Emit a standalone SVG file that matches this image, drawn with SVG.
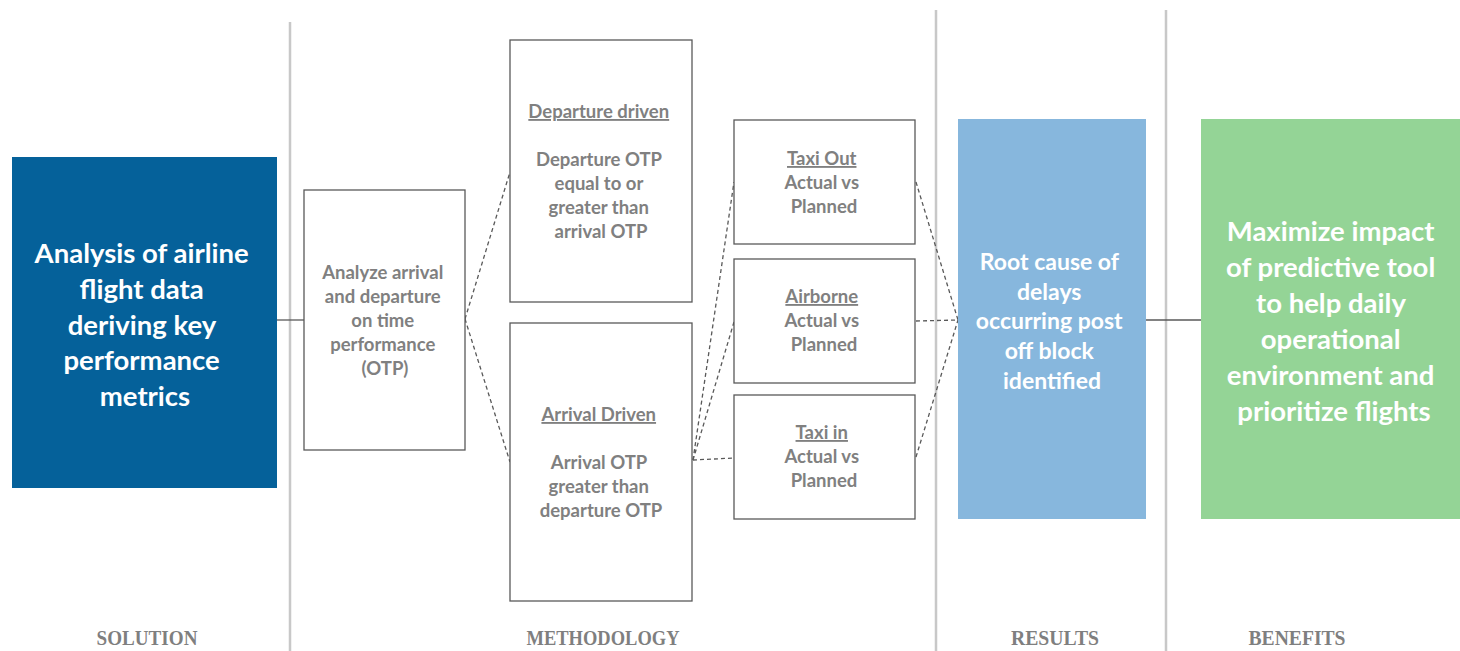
<svg xmlns="http://www.w3.org/2000/svg" width="1460" height="651" viewBox="0 0 1460 651">
  <style>
    .sep { stroke: #c8c8c8; stroke-width: 2.5; }
    .box { fill: #ffffff; stroke: #595959; stroke-width: 1.3; }
    .solid { stroke: #595959; stroke-width: 1.3; fill: none; }
    .dash { stroke: #595959; stroke-width: 1.3; stroke-dasharray: 4 3; fill: none; }
    .gt { font-family: Lato, "Liberation Sans", sans-serif; font-weight: bold; fill: #808080; font-size: 18.5px; text-anchor: middle; }
    .ul { text-decoration: underline; }
    .wt { font-family: Lato, "Liberation Sans", sans-serif; font-weight: bold; fill: #ffffff; text-anchor: middle; }
    .cap { font-family: "Liberation Serif", serif; font-weight: bold; fill: #7f7f7f; font-size: 22px; text-anchor: middle; }
  </style>
  <rect width="1460" height="651" fill="#ffffff"/>

  <!-- column separators -->
  <g id="separators">
    <line class="sep" x1="290" y1="22" x2="290" y2="651"/>
    <line class="sep" x1="936" y1="10" x2="936" y2="651"/>
    <line class="sep" x1="1166" y1="10" x2="1166" y2="651"/>
  </g>

  <!-- connectors -->
  <g id="connectors">
    <line class="solid" x1="277" y1="320" x2="304" y2="320"/>
    <line class="dash" x1="465" y1="319" x2="510" y2="172"/>
    <line class="dash" x1="465" y1="319" x2="510" y2="462"/>
    <line class="dash" x1="693" y1="460" x2="734" y2="182"/>
    <line class="dash" x1="693" y1="460" x2="734" y2="322"/>
    <line class="dash" x1="693" y1="460" x2="734" y2="458"/>
    <line class="dash" x1="916" y1="182" x2="958" y2="320"/>
    <line class="dash" x1="916" y1="321" x2="958" y2="320"/>
    <line class="dash" x1="916" y1="457" x2="958" y2="320"/>
    <line class="solid" x1="1146" y1="320" x2="1201" y2="320"/>
  </g>

  <g id="solution">
    <rect x="12" y="157" width="265" height="331" fill="#05619a"/>
    <text class="wt" font-size="27.5">
      <tspan x="145" y="263">Analysis of airline</tspan>
      <tspan x="145" y="299">flight data</tspan>
      <tspan x="145" y="335">deriving key</tspan>
      <tspan x="145" y="370">performance</tspan>
      <tspan x="145" y="406">metrics</tspan>
    </text>
  </g>

  <g id="analyze">
    <rect class="box" x="304" y="190" width="161" height="260"/>
    <text class="gt">
      <tspan x="385" y="279">Analyze arrival</tspan>
      <tspan x="385" y="303">and departure</tspan>
      <tspan x="385" y="327">on time</tspan>
      <tspan x="385" y="351">performance</tspan>
      <tspan x="385" y="375">(OTP)</tspan>
    </text>
  </g>

  <g id="departure-driven">
    <rect class="box" x="510" y="40" width="182" height="262"/>
    <text class="gt">
      <tspan class="ul" x="601" y="118">Departure driven</tspan>
      <tspan x="601" y="166">Departure OTP</tspan>
      <tspan x="601" y="190">equal to or</tspan>
      <tspan x="601" y="214">greater than</tspan>
      <tspan x="601" y="238">arrival OTP</tspan>
    </text>
  </g>

  <g id="arrival-driven">
    <rect class="box" x="510" y="323" width="182" height="278"/>
    <text class="gt">
      <tspan class="ul" x="601" y="421">Arrival Driven</tspan>
      <tspan x="601" y="469">Arrival OTP</tspan>
      <tspan x="601" y="493">greater than</tspan>
      <tspan x="601" y="517">departure OTP</tspan>
    </text>
  </g>

  <g id="taxi-out">
    <rect class="box" x="734" y="120" width="181" height="124"/>
    <text class="gt">
      <tspan class="ul" x="824" y="165">Taxi Out</tspan>
      <tspan x="824" y="189">Actual vs</tspan>
      <tspan x="824" y="213">Planned</tspan>
    </text>
  </g>

  <g id="airborne">
    <rect class="box" x="734" y="259" width="181" height="124"/>
    <text class="gt">
      <tspan class="ul" x="824" y="303">Airborne</tspan>
      <tspan x="824" y="327">Actual vs</tspan>
      <tspan x="824" y="351">Planned</tspan>
    </text>
  </g>

  <g id="taxi-in">
    <rect class="box" x="734" y="395" width="181" height="124"/>
    <text class="gt">
      <tspan class="ul" x="824" y="439">Taxi in</tspan>
      <tspan x="824" y="463">Actual vs</tspan>
      <tspan x="824" y="487">Planned</tspan>
    </text>
  </g>

  <g id="results">
    <rect x="958" y="119" width="188" height="400" fill="#87b7dd"/>
    <text class="wt" font-size="23">
      <tspan x="1052" y="270">Root cause of</tspan>
      <tspan x="1052" y="300">delays</tspan>
      <tspan x="1052" y="329">occurring post</tspan>
      <tspan x="1052" y="359">off block</tspan>
      <tspan x="1052" y="389">identified</tspan>
    </text>
  </g>

  <g id="benefits">
    <rect x="1201" y="119" width="259" height="400" fill="#94d496"/>
    <text class="wt" font-size="27.5">
      <tspan x="1334" y="241">Maximize impact</tspan>
      <tspan x="1334" y="277">of predictive tool</tspan>
      <tspan x="1334" y="313">to help daily</tspan>
      <tspan x="1334" y="349">operational</tspan>
      <tspan x="1334" y="385">environment and</tspan>
      <tspan x="1334" y="421">prioritize flights</tspan>
    </text>
  </g>

  <!-- column captions -->
  <g id="captions">
    <text class="cap" x="147" y="645" textLength="101" lengthAdjust="spacingAndGlyphs">SOLUTION</text>
    <text class="cap" x="603" y="645" textLength="153" lengthAdjust="spacingAndGlyphs">METHODOLOGY</text>
    <text class="cap" x="1055" y="645" textLength="88" lengthAdjust="spacingAndGlyphs">RESULTS</text>
    <text class="cap" x="1297" y="645" textLength="97" lengthAdjust="spacingAndGlyphs">BENEFITS</text>
  </g>
</svg>
